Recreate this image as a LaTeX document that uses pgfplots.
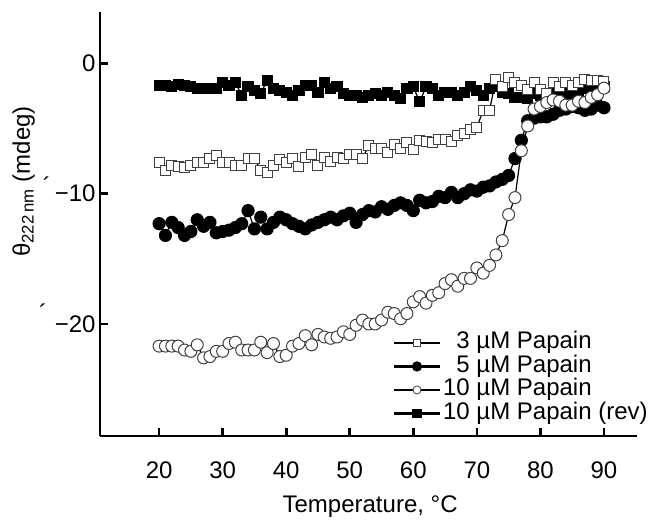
\documentclass[border=0pt]{standalone}
\usepackage{fontspec}
\setmainfont{Liberation Sans}
\usepackage{pgfplots}
\pgfplotsset{compat=1.18}
\newcommand\fs{\fontsize{24bp}{28bp}\selectfont}
\begin{document}
\begin{tikzpicture}
\begin{axis}[
  scale only axis, width=537bp, height=424bp,
  xmin=10.7, xmax=95.2, ymin=-28.6, ymax=3.95,
  axis lines=left,
  axis line style={-, line width=2.8bp},
  every outer x axis line/.append style={-},
  every outer y axis line/.append style={-},
  tick style={black, line width=2.6bp},
  major tick length=8bp, tick align=inside,
  xtick={20,30,40,50,60,70,80,90},
  xticklabels={20,30,40,50,60,70,80,90},
  ytick={-20,-10,0},
  yticklabels={−20,−10,0},
  tick label style={font=\fs},
  xticklabel style={yshift=-22bp},
  yticklabel style={xshift=-1bp},
  xlabel={Temperature, °C},
  ylabel={θ\textsubscript{222\,nm} (mdeg)},
  label style={font=\fs},
  xlabel style={at={(axis description cs:0.503,-0.167)}, anchor=center},
  ylabel style={at={(axis description cs:-0.142,0.60)}, anchor=center},
  legend image code/.code={\draw[mark repeat=2,mark phase=2,#1] plot coordinates {(0bp,0bp) (23bp,0bp) (46bp,0bp)};},
  legend style={draw=none, fill=none, font=\fs, at={(axis description cs:1.024,0.025)}, anchor=south east,
    inner sep=0pt, row sep=0bp,
    nodes={inner xsep=2bp, inner ysep=1.5bp, text height=16bp, text depth=4.5bp},
    /tikz/every even column/.append style={column sep=0bp}},
  legend cell align=left,
  clip=false,
]
\coordinate (ll) at (rel axis cs:0,0);
% 10 uM Papain (rev)
\addplot[forget plot, black, line width=1.2bp, mark=square*, mark size=5bp, mark options={solid}] coordinates {
(20,-1.7) (21,-1.7) (22,-1.8) (23,-1.6) (24,-1.7) (25,-1.8) (26,-1.9) (27,-1.9) (28,-1.95) (29,-1.9)
(30,-1.45) (31,-1.7) (32,-1.45) (33,-2.45) (34,-1.8) (35,-2.1) (36,-2.3) (37,-1.3) (38,-1.9) (39,-2.1)
(40,-2.2) (41,-2.45) (42,-2.1) (43,-1.7) (44,-1.7) (45,-2.2) (46,-1.45) (47,-1.95) (48,-1.8) (49,-2.3)
(50,-2.45) (51,-2.45) (52,-2.6) (53,-2.45) (54,-2.3) (55,-2.45) (56,-2.2) (57,-2.45) (58,-2.7) (59,-1.95)
(60,-1.8) (61,-2.95) (62,-1.8) (63,-1.95) (64,-2.45) (65,-2.2) (66,-2.2) (67,-2.45) (68,-2.2) (69,-1.8)
(70,-2.1) (71,-2.45) (72,-1.95) (73,-1.8) (74,-2.2) (75,-2.3) (76,-2.6) (77,-2.6) (78,-2.7) (79,-2.3)
(80,-2.45) (81,-2.3) (82,-2.2) (83,-2.1) (84,-2.3) (85,-2.3) (86,-2.2) (87,-1.95) (88,-1.8) (89,-1.8) (90,-1.8)
};
% 5 uM Papain
\addplot[forget plot, black, line width=1.2bp, mark=*, mark size=6bp] coordinates {
(20,-12.3) (21,-13.2) (22,-12.2) (23,-12.6) (24,-13.2) (25,-12.9) (26,-12.0) (27,-12.5) (28,-12.2) (29,-13.0)
(30,-12.9) (31,-12.8) (32,-12.6) (33,-12.3) (34,-11.3) (35,-12.7) (36,-11.8) (37,-12.7) (38,-12.2) (39,-11.8)
(40,-12.0) (41,-12.3) (42,-12.5) (43,-12.7) (44,-12.4) (45,-12.2) (46,-12.0) (47,-11.8) (48,-12.0) (49,-11.7)
(50,-11.5) (51,-12.2) (52,-11.6) (53,-11.3) (54,-11.4) (55,-11.0) (56,-11.2) (57,-10.9) (58,-10.7) (59,-10.9)
(60,-11.3) (61,-10.5) (62,-10.7) (63,-10.6) (64,-10.2) (65,-10.3) (66,-9.9) (67,-10.3) (68,-10.0) (69,-9.7)
(70,-9.8) (71,-9.5) (72,-9.4) (73,-9.1) (74,-8.9) (75,-8.6) (76,-7.3) (77,-5.9) (78,-4.4) (79,-4.2)
(80,-4.1) (81,-4.1) (82,-3.9) (83,-3.6) (84,-3.5) (85,-3.3) (86,-3.4) (87,-3.6) (88,-3.5) (89,-3.2) (90,-3.4)
};
% 3 uM Papain
\addplot[forget plot, black, line width=1.2bp, mark=square*, mark size=5bp, mark options={fill=white, draw=black!75, line width=1bp}] coordinates {
(20,-7.6) (21,-8.2) (22,-7.8) (23,-7.9) (24,-8.0) (25,-7.8) (26,-7.6) (27,-7.6) (28,-7.3) (29,-7.1)
(30,-7.6) (31,-7.6) (32,-7.8) (33,-7.8) (34,-7.3) (35,-7.3) (36,-8.2) (37,-8.4) (38,-7.8) (39,-7.4)
(40,-7.6) (41,-7.3) (42,-7.9) (43,-7.2) (44,-7.0) (45,-7.8) (46,-7.2) (47,-7.5) (48,-7.2) (49,-7.3)
(50,-7.0) (51,-7.0) (52,-7.3) (53,-6.3) (54,-6.5) (55,-6.5) (56,-6.8) (57,-6.2) (58,-6.5) (59,-6.1)
(60,-6.6) (61,-5.9) (62,-6.0) (63,-6.1) (64,-5.8) (65,-5.8) (66,-6.0) (67,-5.5) (68,-5.4) (69,-5.1)
(70,-4.9) (71,-3.6) (72,-3.6) (73,-1.2) (74,-1.8) (75,-1.1) (76,-1.5) (77,-1.7) (78,-2.0) (79,-1.5)
(80,-2.0) (81,-2.3) (82,-1.5) (83,-1.8) (84,-1.5) (85,-1.7) (86,-1.5) (87,-1.2) (88,-1.3) (89,-1.3) (90,-1.4)
};
% 10 uM Papain
\addplot[forget plot, black, line width=1.2bp, mark=*, mark size=6bp, mark options={fill=white, draw=black!75, line width=1bp}] coordinates {
(20,-21.7) (21,-21.7) (22,-21.7) (23,-21.7) (24,-22.0) (25,-22.1) (26,-21.6) (27,-22.6) (28,-22.5) (29,-22.1)
(30,-22.1) (31,-21.5) (32,-21.4) (33,-22.0) (34,-22.0) (35,-22.0) (36,-21.4) (37,-22.2) (38,-21.5) (39,-22.5)
(40,-22.4) (41,-21.7) (42,-21.5) (43,-20.9) (44,-21.6) (45,-20.8) (46,-21.0) (47,-21.1) (48,-21.0) (49,-20.6)
(50,-20.8) (51,-20.1) (52,-19.7) (53,-20.0) (54,-20.0) (55,-19.7) (56,-19.1) (57,-19.2) (58,-19.6) (59,-19.2)
(60,-18.3) (61,-17.9) (62,-18.4) (63,-17.8) (64,-17.6) (65,-16.9) (66,-16.6) (67,-17.1) (68,-16.5) (69,-16.5)
(70,-15.7) (71,-16.1) (72,-15.5) (73,-14.7) (74,-13.6) (75,-11.6) (76,-10.3) (77,-6.7) (78,-4.8) (79,-3.5)
(80,-3.3) (81,-3.0) (82,-2.8) (83,-2.9) (84,-3.2) (85,-3.2) (86,-2.9) (87,-3.0) (88,-2.6) (89,-2.4) (90,-1.9)
};
\addlegendimage{black, line width=2.2bp, mark=square*, mark size=3.5bp, mark options={fill=white, draw=black!75, line width=0.8bp}}
\addlegendentry{\phantom{1}3 µM Papain}
\addlegendimage{black, line width=2.2bp, mark=*, mark size=4bp}
\addlegendentry{\phantom{1}5 µM Papain}
\addlegendimage{black, line width=2.2bp, mark=*, mark size=4bp, mark options={fill=white, draw=black!75, line width=0.8bp}}
\addlegendentry{10 µM Papain}
\addlegendimage{black, line width=2.2bp, mark=square*, mark size=3.5bp}
\addlegendentry{10 µM Papain (rev)}
\node[font=\fs] at (axis description cs:-0.099,0.59) {´};
\node[font=\fs] at (axis description cs:-0.106,0.29) {´};
\end{axis}
\pgfresetboundingbox
\path[use as bounding box] ([shift={(-100bp,-84bp)}]ll) rectangle ++(650bp,520bp);
\end{tikzpicture}
\end{document}
